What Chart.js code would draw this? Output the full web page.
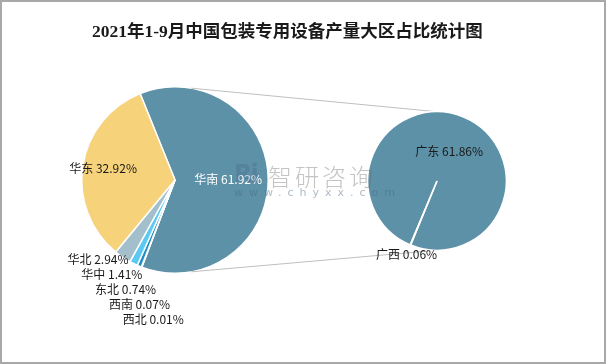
<!DOCTYPE html>
<html>
<head>
<meta charset="utf-8">
<script src="https://cdn.jsdelivr.net/npm/chart.js@4.4.0/dist/chart.umd.min.js"></script>
<style>
  html, body { margin: 0; padding: 0; background: #fff; }
  #frame { position: relative; width: 606px; height: 364px; background: #fff; overflow: hidden; }
  #frame canvas { position: absolute; left: 0; top: 0; }
  #edge { position: absolute; left: 0; top: 0; width: 606px; height: 364px; box-sizing: border-box;
          border: 2px solid #A8A8A8; z-index: 5; pointer-events: none; }
  #title { position: absolute; left: 92px; top: 17px; z-index: 4; white-space: nowrap;
           font: bold 17.5px "Liberation Serif", "Noto Sans CJK SC", serif; color: #1a1a1a; }
  .wm { position: absolute; z-index: 3; white-space: nowrap; color: rgba(100, 100, 100, 0.38);
        font-family: "Noto Sans CJK SC", sans-serif; }
  #wmLogo { left: 234px; top: 160px; font: bold 24px "DejaVu Sans", sans-serif; color: rgba(70, 100, 140, 0.32); letter-spacing: -2px; }
  #wmName { left: 268px; top: 158px; font-size: 24px; font-weight: 300; letter-spacing: 3px; }
  #wmUrl { left: 234px; top: 186px; font-size: 11px; letter-spacing: 6px; color: rgba(70, 100, 130, 0.45); font-family: "DejaVu Sans", sans-serif; }
</style>
</head>
<body>
<div id="frame">
  <canvas id="sub" width="606" height="364"></canvas>
  <canvas id="main" width="606" height="364"></canvas>
  <div id="title">2021年1-9月中国包装专用设备产量大区占比统计图</div>
  <div class="wm" id="wmLogo">Ri</div>
  <div class="wm" id="wmName">智研咨询</div>
  <div class="wm" id="wmUrl">www.chyxx.com</div>
  <div id="edge"></div>
</div>
<script>
// main pie: share of output by region (%)
const regions = ["华南", "西北", "西南", "东北", "华中", "华北", "华东"];
const shares = [61.92, 0.01, 0.07, 0.74, 1.41, 2.94, 32.92];

// secondary pie: split of 华南
const subRegions = ["广东", "广西"];
const subShares = [61.86, 0.06];

const mainColors = ["#5D91A7", "#2E75B6", "#1F6FA8", "#1E8FC9", "#5CC9F2", "#A3BFCB", "#F6D27B"];
const labelFont = '12px "Noto Sans CJK SC", "Microsoft YaHei", sans-serif';

// main canvas under the sub canvas
document.getElementById("main").style.zIndex = 1;
document.getElementById("sub").style.zIndex = 2;

function arcGeom(arc) {
  const p = arc.getProps(["x", "y", "startAngle", "endAngle", "outerRadius"], true);
  p.mid = (p.startAngle + p.endAngle) / 2;
  return p;
}

const subLabels = {
  id: "subLabels",
  afterDatasetsDraw(chart) {
    const ctx = chart.ctx;
    const arcs = chart.getDatasetMeta(0).data;
    ctx.save();
    ctx.font = labelFont;
    ctx.fillStyle = "#1a1a1a";
    ctx.textAlign = "center";
    ctx.textBaseline = "middle";
    arcs.forEach((arc, i) => {
      const g = arcGeom(arc);
      const r = i === 0 ? g.outerRadius * 0.46 : g.outerRadius + 10;
      const txt = subRegions[i] + " " + subShares[i].toFixed(2) + "%";
      ctx.fillText(txt, g.x + Math.cos(g.mid) * r, g.y + Math.sin(g.mid) * r);
    });
    ctx.restore();
  }
};

const subChart = new Chart(document.getElementById("sub"), {
  type: "pie",
  data: {
    labels: subRegions,
    datasets: [{ data: subShares, backgroundColor: "#5D91A7", borderColor: "#fff", borderWidth: 1.5 }]
  },
  options: {
    responsive: false,
    animation: false,
    rotation: 202.7,
    layout: { padding: { left: 367, right: 99, top: 111, bottom: 113 } },
    plugins: { legend: { display: false }, tooltip: { enabled: false } }
  },
  plugins: [subLabels]
});

// lines from the main pie to the top and bottom of the secondary pie
const connectors = {
  id: "connectors",
  afterDatasetsDraw(chart) {
    const m = arcGeom(chart.getDatasetMeta(0).data[0]);
    const s = arcGeom(subChart.getDatasetMeta(0).data[0]);
    const ctx = chart.ctx;
    const a1 = (10 - 90) * Math.PI / 180;
    const a2 = (170 - 90) * Math.PI / 180;
    ctx.save();
    ctx.strokeStyle = "#BFBFBF";
    ctx.lineWidth = 1;
    ctx.beginPath();
    ctx.moveTo(m.x + Math.cos(a1) * m.outerRadius, m.y + Math.sin(a1) * m.outerRadius);
    ctx.lineTo(s.x, s.y - s.outerRadius);
    ctx.moveTo(m.x + Math.cos(a2) * m.outerRadius, m.y + Math.sin(a2) * m.outerRadius);
    ctx.lineTo(s.x, s.y + s.outerRadius);
    ctx.stroke();
    ctx.restore();
  }
};

const mainLabels = {
  id: "mainLabels",
  afterDatasetsDraw(chart) {
    const ctx = chart.ctx;
    const arcs = chart.getDatasetMeta(0).data;
    ctx.save();
    ctx.font = labelFont;
    ctx.textBaseline = "middle";
    const txt = (i) => regions[i] + " " + shares[i].toFixed(2) + "%";

    // big slices: label inside
    const g0 = arcGeom(arcs[0]);
    ctx.fillStyle = "#ffffff";
    ctx.textAlign = "center";
    ctx.fillText(txt(0), g0.x + Math.cos(g0.mid) * g0.outerRadius * 0.57, g0.y + Math.sin(g0.mid) * g0.outerRadius * 0.57);
    const g6 = arcGeom(arcs[6]);
    ctx.fillStyle = "#1a1a1a";
    ctx.fillText(txt(6), g6.x + Math.cos(g6.mid) * g6.outerRadius * 0.78, g6.y + Math.sin(g6.mid) * g6.outerRadius * 0.78);

    // small slices: stacked labels below-left, starting from the largest small slice
    const g5 = arcGeom(arcs[5]);
    let lx = g5.x + Math.cos(g5.mid) * g5.outerRadius + 6;
    let ly = g5.y + Math.sin(g5.mid) * g5.outerRadius + 2;
    ctx.textAlign = "right";
    for (let i = 5; i >= 1; i--) {
      ctx.fillText(txt(i), lx, ly);
      lx += 13.8;
      ly += 15;
    }
    ctx.restore();
  }
};

const mainChart = new Chart(document.getElementById("main"), {
  type: "pie",
  data: {
    labels: regions,
    datasets: [{ data: shares, backgroundColor: mainColors, borderColor: "#fff", borderWidth: 1.5 }]
  },
  options: {
    responsive: false,
    animation: false,
    rotation: -22,
    layout: { padding: { left: 81, right: 337, top: 86, bottom: 90 } },
    plugins: { legend: { display: false }, tooltip: { enabled: false } }
  },
  plugins: [connectors, mainLabels]
});
</script>
</body>
</html>
